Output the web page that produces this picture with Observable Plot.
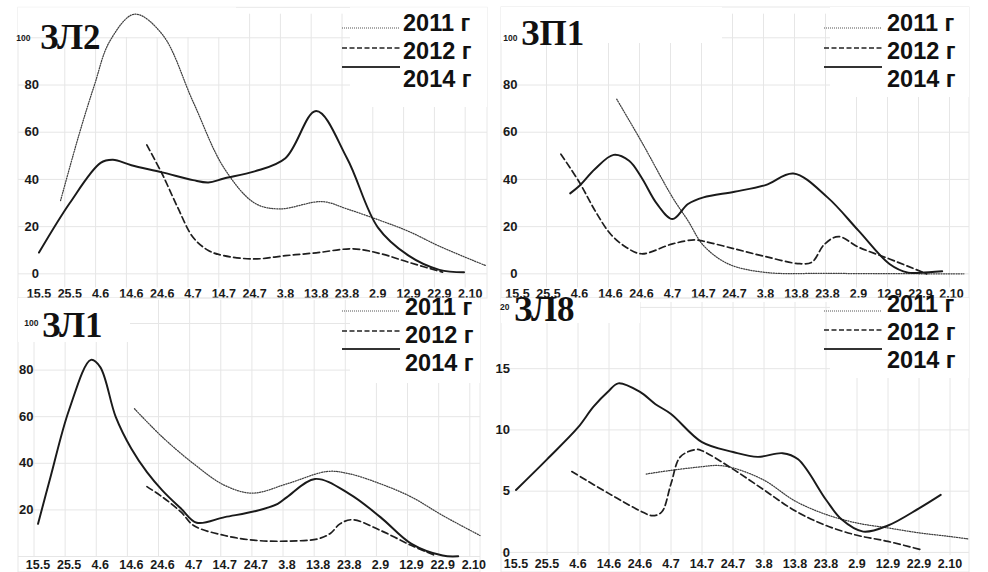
<!DOCTYPE html>
<html>
<head>
<meta charset="utf-8">
<script src="https://cdn.jsdelivr.net/npm/d3@7"></script>
<script src="https://cdn.jsdelivr.net/npm/@observablehq/plot@0.6"></script>
<style>
  body { margin: 0; background: #fff; }
  #chart { position: relative; width: 988px; height: 572px; overflow: hidden; background: #fff;
           font-family: "Liberation Sans", Arial, sans-serif; }
  .panel { position: absolute; }
  .title { position: absolute; font-family: "Liberation Serif", "Times New Roman", serif; font-weight: bold;
           font-size: 35px; line-height: 0.8; color: #111; white-space: nowrap; }
  .leg { position: absolute; font-weight: bold; font-size: 23.5px; line-height: 0.8; color: #111; white-space: nowrap; }
  .sw { position: absolute; overflow: visible; }
</style>
</head>
<body>
<div id="chart"></div>
<script>
// Sampling dates (day.month) and their offsets in days from 15 May
const dateLabels = ["15.5", "25.5", "4.6", "14.6", "24.6", "4.7", "14.7", "24.7", "3.8", "13.8", "23.8", "2.9", "12.9", "22.9", "2.10"];
const dateDays = [0, 10, 20, 30, 40, 50, 60, 70, 80, 90, 100, 110, 120, 130, 140];
const years = ["2011 г", "2012 г", "2014 г"];

// ЗЛ2
const zl2Day2011 = [7, 13, 18, 23, 31, 40, 50, 60, 70, 78, 92, 100, 111, 120, 130, 145];
const zl2Val2011 = [31, 59, 80, 98.6, 110, 101.5, 73, 45, 30, 27.5, 30.6, 27.5, 22.5, 18, 11.7, 3.5];
const zl2Day2012 = [35, 40, 45, 50, 55, 60, 70, 80, 90, 102, 111, 120, 131];
const zl2Val2012 = [54.6, 42.3, 28.2, 15.5, 9.9, 7.7, 6.3, 7.7, 8.9, 10.6, 8.5, 4.9, 0.7];
const zl2Day2014 = [0, 10, 20, 24, 30, 40, 50, 55, 60, 70, 80, 90, 100, 110, 120, 130, 138];
const zl2Val2014 = [9, 30, 47, 48.3, 46, 43, 39.7, 38.7, 40.4, 43.4, 49, 69, 49, 19.7, 7.7, 1.7, 0.7];

// ЗП1
const zp1Day2011 = [32, 40, 50, 55, 60, 68, 80, 100, 144];
const zp1Val2011 = [74, 56, 32.4, 22.5, 12, 4.2, 0.6, 0.2, 0];
const zp1Day2012 = [14, 20, 25, 30, 35, 40, 50, 57, 60, 70, 80, 91, 95, 99, 103.5, 110, 120, 132];
const zp1Val2012 = [50.7, 38.7, 26.8, 16.9, 11.3, 8.5, 12.7, 14.4, 13.8, 10.6, 7.3, 4.3, 5, 12.5, 15.8, 11.3, 6.3, 0];
const zp1Day2014 = [17, 20, 25, 31, 36, 40, 45, 50, 55, 60, 70, 80, 89, 100, 110, 120, 126, 130, 137];
const zp1Val2014 = [34.1, 37.3, 44.4, 50.4, 47.9, 40.8, 29.6, 23.2, 29.6, 32.4, 34.8, 37.6, 42.5, 32.4, 18.3, 4.2, 0.5, 0.5, 1.1];

// ЗЛ1
const zl1Day2011 = [31, 40, 50, 60, 69, 80, 93, 100, 110, 120, 130, 142];
const zl1Val2011 = [63.4, 51.2, 39.8, 30.5, 27.2, 31.2, 36.5, 35.5, 31.2, 25.5, 17.6, 9];
const zl1Day2012 = [35, 40, 46, 50, 60, 70, 80, 90, 94, 97, 101, 110, 120, 128];
const zl1Val2012 = [30, 25.5, 19, 13.3, 9, 6.9, 6.6, 7.6, 10, 14, 15.8, 11.2, 4.7, 0.2];
const zl1Day2014 = [0, 4, 10, 17, 20, 25, 30, 35, 40, 46, 51, 60, 70, 77, 80, 89, 100, 110, 120, 130, 135];
const zl1Val2014 = [14, 34, 63, 84.4, 81.3, 59.8, 46.2, 36.2, 28.3, 20.5, 14.5, 16.9, 19.5, 22.6, 25.5, 33.3, 26.9, 16.9, 5.4, 0.4, 0.1];

// ЗЛ8
const zl8Day2011 = [42, 50, 60, 65, 70, 80, 90, 100, 110, 120, 130, 140, 146];
const zl8Val2011 = [6.4, 6.7, 7.0, 7.1, 6.9, 5.9, 4.2, 3.1, 2.4, 2.0, 1.6, 1.3, 1.1];
const zl8Day2012 = [18, 30, 40, 44, 47, 50, 53, 58, 60, 70, 80, 90, 100, 110, 120, 131];
const zl8Val2012 = [6.6, 4.8, 3.4, 3.0, 3.3, 5.6, 7.8, 8.4, 8.3, 6.8, 5.1, 3.4, 2.2, 1.4, 0.9, 0.2];
const zl8Day2014 = [0, 10, 20, 25, 30, 33, 40, 45, 50, 60, 70, 78, 86, 91, 100, 105, 112, 120, 130, 137];
const zl8Val2014 = [5.1, 7.6, 10.2, 11.9, 13.2, 13.8, 13.1, 12.1, 11.3, 9.0, 8.2, 7.8, 8.1, 7.6, 4.3, 2.7, 1.7, 2.2, 3.6, 4.7];

// Line appearance per year
const lineStyle = {
  "2011 г": {stroke: "#404040", strokeWidth: 1.25, strokeDasharray: "1.1,1.4"},
  "2012 г": {stroke: "#1e1e1e", strokeWidth: 1.7, strokeDasharray: "6.5,3.5"},
  "2014 г": {stroke: "#1a1a1a", strokeWidth: 1.95}
};
const swatchStyle = {
  "2011 г": {stroke: "#555", width: 1.2, dash: "1,1"},
  "2012 г": {stroke: "#222", width: 1.5, dash: "5,2.5"},
  "2014 г": {stroke: "#333", width: 2.2, dash: null}
};

const panels = [
  {
    title: "ЗЛ2", left: 0, top: 0, width: 494, height: 300,
    margin: {top: 13.7, right: 7, bottom: 12.5, left: 18},
    xRange: [38.5, 469.7], yDomain: [-6, 110], yRange: [287.5, 13.7],
    hgrid: [0, 20, 40, 60, 80, 100], vgrid: dateDays.slice(1), vgridDx: -5,
    yTicks: [0, 20, 40, 60, 80], yTop: 100, yPad: -20.5, yTopPad: -12, xPad: 1,
    series: [[zl2Day2011, zl2Val2011], [zl2Day2012, zl2Val2012], [zl2Day2014, zl2Val2014]],
    border: [18, 7.3, 487, 298], masks: [[18, 7.3, 236, 37], [350, 7.3, 487, 107]],
    titleAt: [40, 37.5], swX: 342, swY: [28.3, 48.3, 66.7], txX: 403, txY: [23.3, 50.7, 79]
  },
  {
    title: "ЗП1", left: 494, top: 0, width: 494, height: 300,
    margin: {top: 13.7, right: 19, bottom: 12.5, left: 7},
    xRange: [23, 457], yDomain: [-6, 110], yRange: [287.5, 13.7],
    hgrid: [0, 20, 40, 60, 80, 100], vgrid: dateDays.slice(1), vgridDx: -2,
    yTicks: [0, 20, 40, 60, 80], yTop: 100, yPad: -16, yTopPad: -16, xPad: 1,
    series: [[zp1Day2011, zp1Val2011], [zp1Day2012, zp1Val2012], [zp1Day2014, zp1Val2014]],
    border: [7, 7, 475, 298], masks: [[7, 7, 228, 43], [336, 7, 475, 97]],
    titleAt: [521, 33.5], swX: 824, swY: [28, 48, 66.7], txX: 887, txY: [22.7, 50.7, 79]
  },
  {
    title: "ЗЛ1", left: 0, top: 290, width: 494, height: 282,
    margin: {top: 9.7, right: 14, bottom: 16, left: 18},
    xRange: [37.5, 473.3], yDomain: [0, 110], yRange: [266, 9.7],
    hgrid: [0, 20, 40, 60, 80, 100], vgrid: dateDays, vgridDx: -4,
    yTicks: [20, 40, 60, 80], yTop: 100, yPad: -15, yTopPad: -20, xPad: 3.5,
    series: [[zl1Day2011, zl1Val2011], [zl1Day2012, zl1Val2012], [zl1Day2014, zl1Val2014]],
    border: [18, 8, 480, 282], masks: [[18, 8, 130, 52], [350, 8, 480, 93]],
    titleAt: [42, 326], swX: 342, swY: [310.7, 330.7, 349], txX: 405, txY: [307.2, 335, 363]
  },
  {
    title: "ЗЛ8", left: 494, top: 290, width: 494, height: 282,
    margin: {top: 12, right: 19, bottom: 17, left: 7},
    xRange: [21.5, 455.5], yDomain: [-0.25, 20.4], yRange: [265, 12],
    hgrid: [0, 5, 10, 15, 20], vgrid: dateDays.slice(1), vgridDx: 0,
    yTicks: [0, 5, 10, 15], yTop: 20, yPad: -8.5, yTopPad: -8, xPad: 3.5,
    series: [[zl8Day2011, zl8Val2011], [zl8Day2012, zl8Val2012], [zl8Day2014, zl8Val2014]],
    border: [7, 8, 475, 282], masks: [[7, 8, 146, 33], [336, 8, 475, 88]],
    titleAt: [514, 309.5], swX: 824, swY: [310.7, 330, 349], txX: 887, txY: [303.8, 331.7, 360]
  }
];

const chart = document.getElementById("chart");
const gridColor = "#e6e6e6";

// vertical centre of a glyph row inside a box with line-height 0.8em
const legCentre = 0.3885;
const titleCentre = 0.40;

for (const p of panels) {
  const lineMarks = p.series.map(([days, vals], k) => {
    const rows = days.map((d, i) => ({day: d, value: vals[i]}));
    return Plot.line(rows, {x: "day", y: "value", curve: "catmull-rom", ...lineStyle[years[k]]});
  });

  const plot = Plot.plot({
    width: p.width,
    height: p.height,
    marginTop: p.margin.top,
    marginRight: p.margin.right,
    marginBottom: p.margin.bottom,
    marginLeft: p.margin.left,
    style: {background: "none", overflow: "visible", color: "#1a1a1a",
            fontFamily: "'Liberation Sans', Arial, sans-serif", fontWeight: "bold"},
    x: {type: "linear", domain: [0, 140], range: p.xRange, label: null},
    y: {domain: p.yDomain, range: p.yRange, label: null},
    marks: [
      Plot.ruleY(p.hgrid, {stroke: gridColor, strokeWidth: 1}),
      Plot.ruleX(p.vgrid, {stroke: gridColor, strokeWidth: 1, dx: p.vgridDx}),
      ...lineMarks,
      Plot.axisX(dateDays, {
        tickSize: 0, tickPadding: p.xPad, fontSize: 12.5, label: null,
        tickFormat: d => dateLabels[dateDays.indexOf(d)]
      }),
      Plot.axisY(p.yTicks, {tickSize: 0, tickPadding: p.yPad, fontSize: 13, label: null}),
      Plot.axisY([p.yTop], {tickSize: 0, tickPadding: p.yTopPad, fontSize: 8.5, label: null})
    ]
  });

  // light chart-area border and white boxes behind the title and legend
  const svg = d3.select(plot);
  const [bx1, by1, bx2, by2] = p.border;
  svg.insert("rect", ":first-child")
    .attr("x", bx1).attr("y", by1).attr("width", bx2 - bx1).attr("height", by2 - by1)
    .attr("fill", "none").attr("stroke", "#e8e8e8");
  const firstLine = plot.querySelector('g[aria-label="line"]');
  for (const [x1, y1, x2, y2] of p.masks) {
    const r = document.createElementNS("http://www.w3.org/2000/svg", "rect");
    r.setAttribute("x", x1); r.setAttribute("y", y1);
    r.setAttribute("width", x2 - x1); r.setAttribute("height", y2 - y1);
    r.setAttribute("fill", "#fff");
    if (firstLine) plot.insertBefore(r, firstLine); else plot.appendChild(r);
  }

  const holder = document.createElement("div");
  holder.className = "panel";
  holder.style.left = p.left + "px";
  holder.style.top = p.top + "px";
  holder.appendChild(plot);
  chart.appendChild(holder);

  // title
  const t = document.createElement("div");
  t.className = "title";
  t.textContent = p.title;
  t.style.left = p.titleAt[0] + "px";
  t.style.top = (p.titleAt[1] - titleCentre * 35) + "px";
  chart.appendChild(t);

  // legend
  years.forEach((yr, k) => {
    const s = swatchStyle[yr];
    const sw = d3.create("svg").attr("class", "sw").attr("width", 58).attr("height", 6)
      .style("left", p.swX + "px").style("top", (p.swY[k] - 3) + "px");
    const ln = sw.append("line").attr("x1", 0).attr("x2", 58).attr("y1", 3).attr("y2", 3)
      .attr("stroke", s.stroke).attr("stroke-width", s.width);
    if (s.dash) ln.attr("stroke-dasharray", s.dash);
    chart.appendChild(sw.node());

    const lt = document.createElement("div");
    lt.className = "leg";
    lt.textContent = yr;
    lt.style.left = p.txX + "px";
    lt.style.top = (p.txY[k] - legCentre * 23.5) + "px";
    chart.appendChild(lt);
  });
}
</script>
</body>
</html>
